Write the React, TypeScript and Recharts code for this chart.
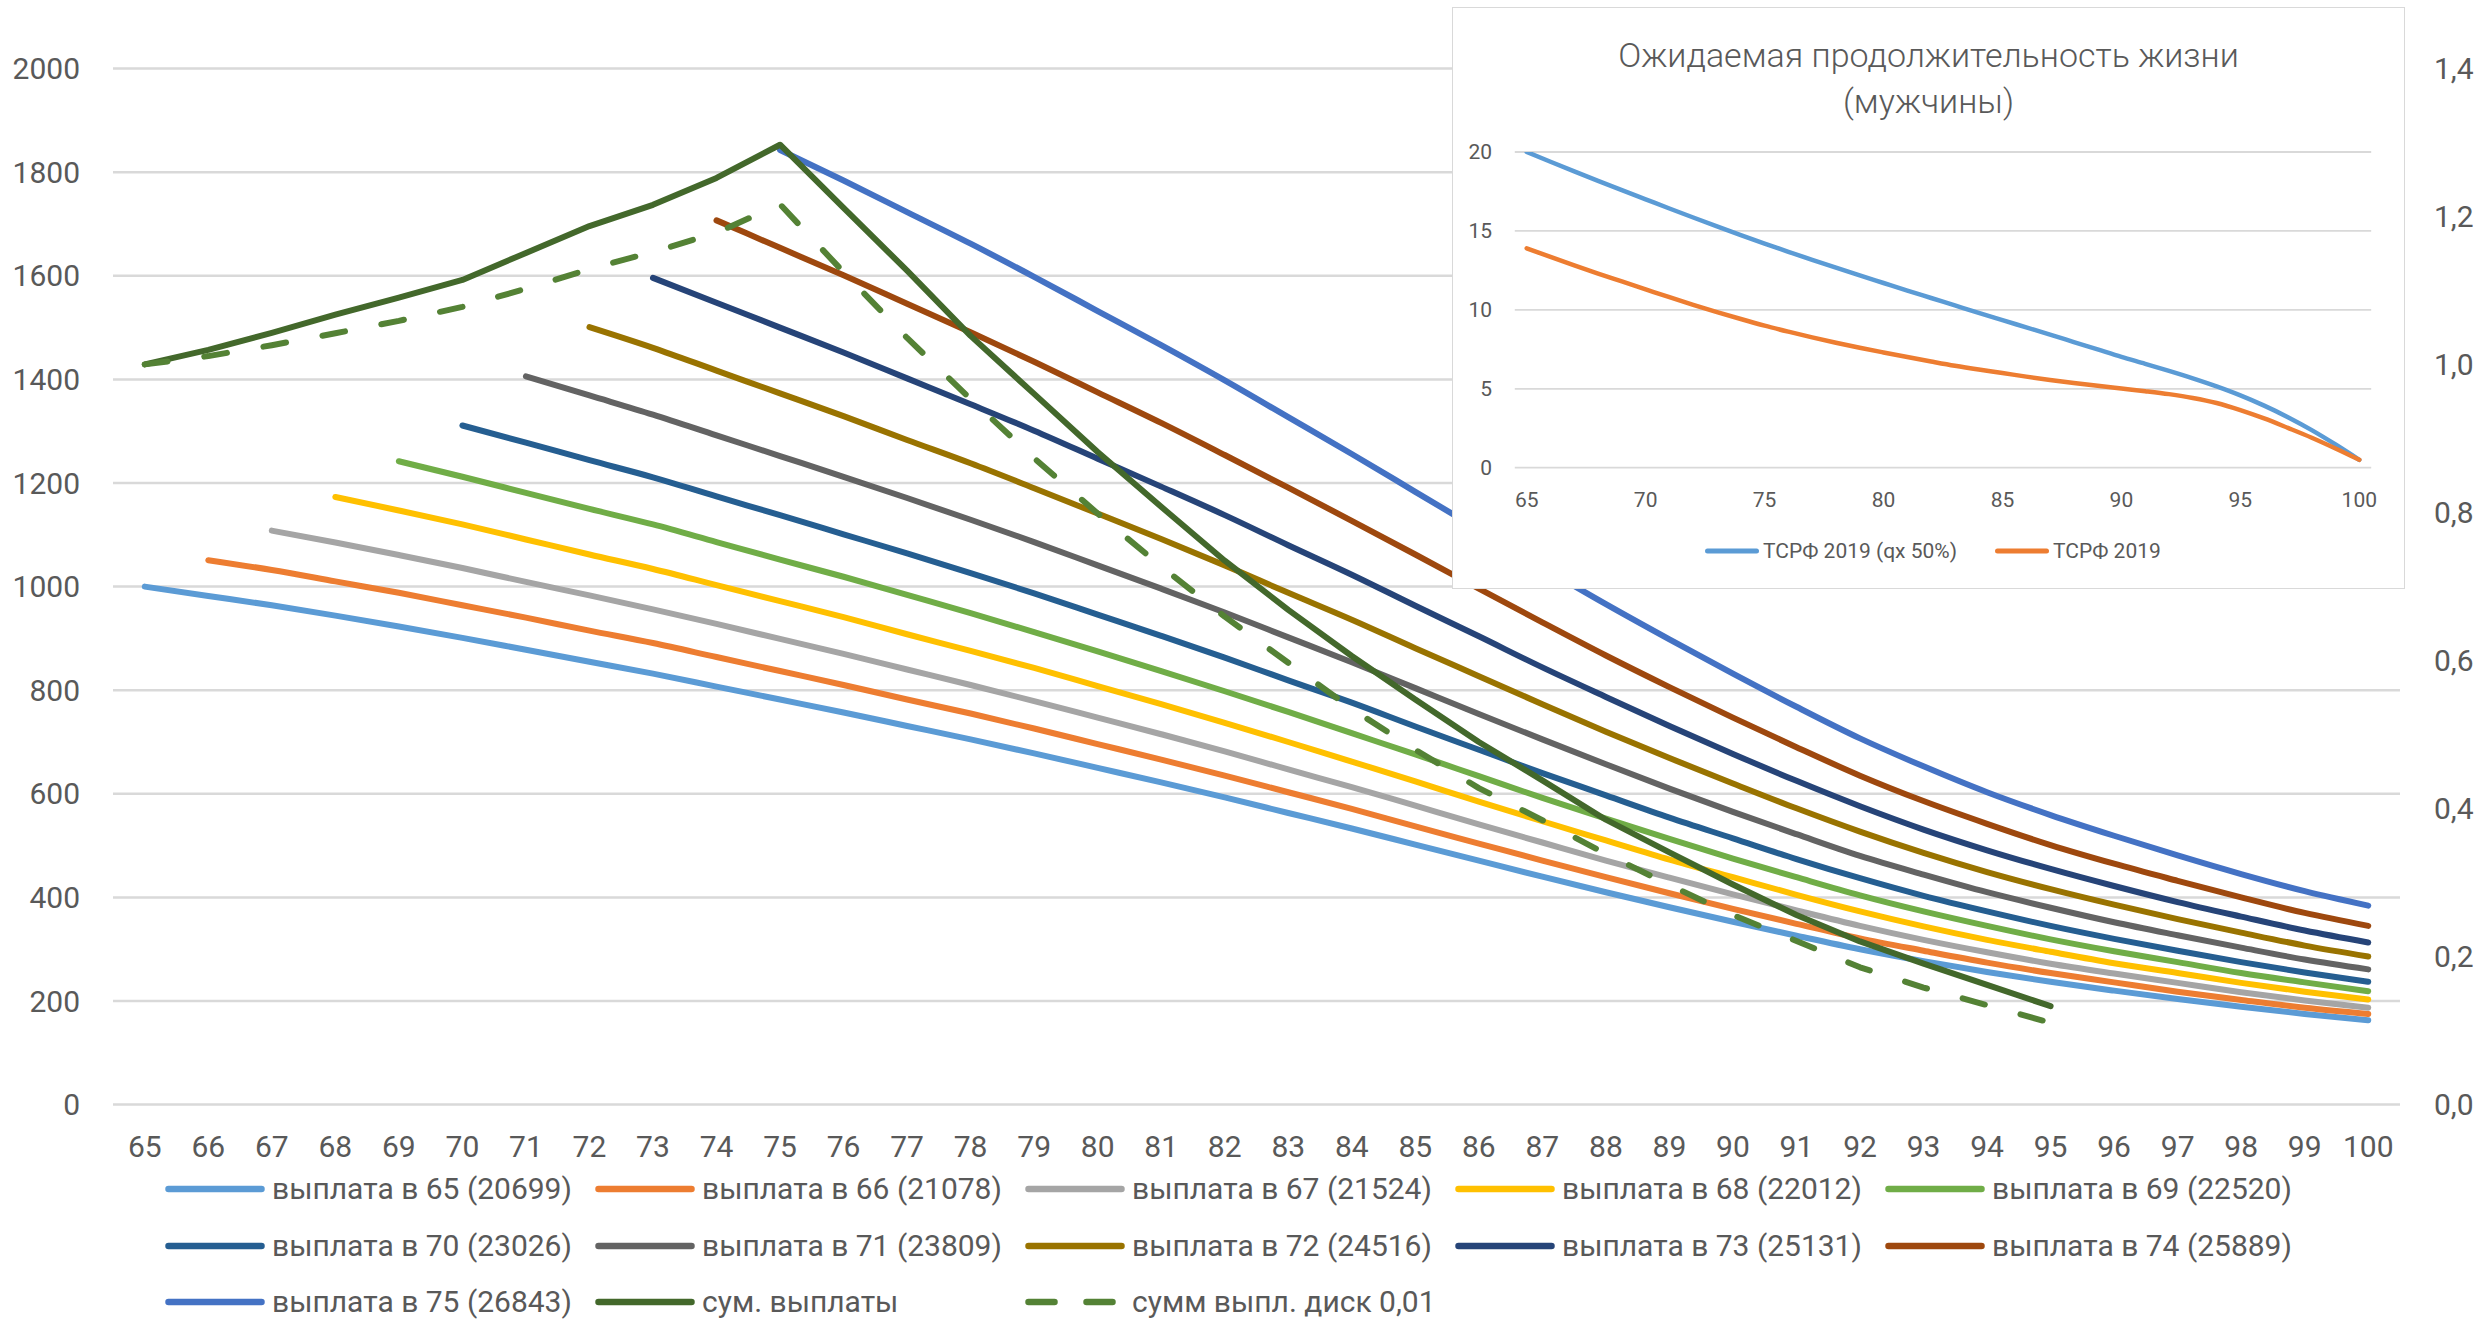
import React from 'react';
import { LineChart, Line, XAxis, YAxis, CartesianGrid, Legend } from 'recharts';

const FONT = "Roboto, 'Noto Sans', 'DejaVu Sans', sans-serif";
const TEXT = '#595959';
const GRID = '#D9D9D9';

// ---------- main chart data ----------
const ages = [65, 66, 67, 68, 69, 70, 71, 72, 73, 74, 75, 76, 77, 78, 79, 80, 81, 82, 83, 84, 85, 86, 87, 88, 89, 90, 91, 92, 93, 94, 95, 96, 97, 98, 99, 100];

const pay65 = [1000, 982, 964, 944, 923, 901, 878, 855, 832, 807, 782, 757, 731, 705, 678, 650, 622, 593, 563, 533, 502, 471, 440, 410, 381, 353, 326, 300, 277, 256, 237, 220, 204, 189, 175, 163];
const pay66 = [1051, 1032, 1010, 988, 964, 940, 915, 891, 864, 837, 810, 782, 755, 726, 696, 666, 635, 603, 571, 537, 504, 471, 439, 408, 378, 349, 321, 297, 274, 254, 236, 218, 202, 187, 175];
const pay67 = [1108, 1085, 1061, 1036, 1009, 983, 956, 928, 899, 870, 840, 810, 779, 747, 715, 682, 647, 613, 577, 541, 506, 471, 438, 406, 375, 345, 318, 294, 272, 253, 235, 217, 201, 187];
const pay68 = [1173, 1147, 1120, 1091, 1062, 1034, 1003, 972, 941, 908, 876, 843, 808, 773, 737, 700, 662, 624, 585, 547, 510, 473, 439, 405, 373, 344, 318, 295, 273, 254, 235, 218, 203];
const pay69 = [1242, 1212, 1181, 1150, 1120, 1086, 1052, 1019, 984, 949, 912, 875, 837, 798, 758, 717, 676, 634, 592, 552, 513, 475, 439, 404, 373, 345, 319, 296, 275, 254, 236, 219];
const pay70 = [1311, 1278, 1244, 1211, 1174, 1138, 1101, 1064, 1026, 987, 946, 905, 863, 819, 776, 730, 685, 640, 597, 554, 514, 474, 437, 403, 373, 345, 320, 297, 275, 255, 237];
const pay71 = [1406, 1369, 1332, 1292, 1252, 1212, 1171, 1129, 1086, 1041, 996, 950, 902, 854, 804, 754, 705, 657, 610, 565, 522, 480, 444, 410, 380, 352, 327, 303, 280, 261];
const pay72 = [1501, 1461, 1417, 1373, 1329, 1283, 1238, 1190, 1141, 1092, 1041, 988, 936, 881, 827, 773, 720, 669, 620, 572, 527, 486, 449, 416, 386, 358, 332, 307, 286];
const pay73 = [1596, 1548, 1500, 1452, 1402, 1352, 1301, 1247, 1193, 1138, 1080, 1023, 963, 904, 844, 787, 731, 677, 625, 576, 531, 491, 455, 422, 391, 363, 336, 313];
const pay74 = [1707, 1654, 1601, 1546, 1491, 1434, 1375, 1316, 1254, 1191, 1127, 1062, 996, 931, 867, 806, 747, 690, 635, 586, 542, 501, 465, 432, 400, 370, 345];
const pay75 = [1843, 1784, 1723, 1662, 1598, 1532, 1466, 1398, 1327, 1256, 1183, 1110, 1037, 966, 898, 832, 768, 707, 653, 603, 559, 519, 481, 445, 412, 384];

// ages 65..95
const sumPayouts = [1429, 1457, 1490, 1525, 1558, 1592, 1644, 1696, 1737, 1789, 1853, 1731, 1610, 1484, 1372, 1260, 1154, 1050, 955, 866, 782, 700, 626, 550, 487, 425, 366, 315, 272, 231, 190];
const sumDiscounted = [1429, 1445, 1466, 1489, 1513, 1540, 1575, 1613, 1646, 1683, 1738, 1607, 1480, 1362, 1248, 1141, 1039, 942, 853, 764, 685, 611, 549, 484, 424, 366, 316, 265, 226, 192, 158];

const payoutNames = ['выплата в 65 (20699)', 'выплата в 66 (21078)', 'выплата в 67 (21524)', 'выплата в 68 (22012)', 'выплата в 69 (22520)', 'выплата в 70 (23026)', 'выплата в 71 (23809)', 'выплата в 72 (24516)', 'выплата в 73 (25131)', 'выплата в 74 (25889)', 'выплата в 75 (26843)'];
const payoutStarts = [65, 66, 67, 68, 69, 70, 71, 72, 73, 74, 75];
const payoutValues = [pay65, pay66, pay67, pay68, pay69, pay70, pay71, pay72, pay73, pay74, pay75];
const payoutColors = ['#5B9BD5', '#ED7D31', '#A5A5A5', '#FFC000', '#70AD47', '#255E91', '#636363', '#997300', '#264478', '#9E480E', '#4472C4'];
const sumName = 'сум. выплаты';
const discName = 'сумм выпл. диск 0,01';
const sumColor = '#43682B';
const discColor = '#548235';

const leftTicks = [0, 200, 400, 600, 800, 1000, 1200, 1400, 1600, 1800, 2000];
const rightTicks = [0, 0.2, 0.4, 0.6, 0.8, 1.0, 1.2, 1.4];

// ---------- inset data ----------
const insetTitle1 = 'Ожидаемая продолжительность жизни';
const insetTitle2 = '(мужчины)';
const lifeHalfQxName = 'ТСРФ 2019 (qx 50%)';
const lifeName = 'ТСРФ 2019';
const lifeHalfQx = [20.0, 19.38, 18.77, 18.17, 17.58, 17.0, 16.42, 15.85, 15.29, 14.74, 14.2, 13.68, 13.17, 12.67, 12.18, 11.7, 11.22, 10.75, 10.28, 9.81, 9.35, 8.89, 8.43, 7.96, 7.49, 7.02, 6.58, 6.13, 5.66, 5.15, 4.58, 3.93, 3.2, 2.38, 1.47, 0.5];
const life = [13.9, 13.35, 12.82, 12.3, 11.8, 11.3, 10.8, 10.32, 9.86, 9.42, 9.0, 8.62, 8.26, 7.92, 7.6, 7.3, 7.01, 6.73, 6.46, 6.22, 6.0, 5.77, 5.56, 5.37, 5.19, 5.02, 4.85, 4.66, 4.42, 4.1, 3.65, 3.12, 2.52, 1.9, 1.22, 0.5];
const insetTicks = [0, 5, 10, 15, 20];

// ---------- build tables ----------
const mainData = ages.map((age) => {
  const row: any = { age };
  payoutValues.forEach((vals, k) => {
    const i = age - payoutStarts[k];
    if (i >= 0 && i < vals.length) row['p' + payoutStarts[k]] = vals[i];
  });
  const j = age - 65;
  if (j < sumPayouts.length) row.sum = sumPayouts[j];
  if (j < sumDiscounted.length) row.disc = sumDiscounted[j];
  return row;
});

const insetData = ages.map((age, i) => ({ age, half: lifeHalfQx[i], full: life[i] }));

const legendOrder = [...payoutNames, sumName, discName];

function MainLegend(props: any) {
  const payload = [...(props.payload || [])].sort(
    (a: any, b: any) => legendOrder.indexOf(a.value) - legendOrder.indexOf(b.value)
  );
  return (
    <div style={{ display: 'grid', gridTemplateColumns: 'repeat(5, 430px)', fontFamily: FONT }}>
      {payload.map((e: any, i: number) => {
        const dashed = e.value === discName;
        return (
          <div key={i} style={{ display: 'flex', alignItems: 'center', height: 56.5 }}>
            <svg width={100} height={14} style={{ display: 'block', flex: 'none' }}>
              {dashed ? (
                <g>
                  <line x1={3.5} y1={7} x2={29.5} y2={7} stroke={e.color} strokeWidth={6.5} strokeLinecap="round" />
                  <line x1={61.5} y1={7} x2={87.5} y2={7} stroke={e.color} strokeWidth={6.5} strokeLinecap="round" />
                </g>
              ) : (
                <line x1={3.5} y1={7} x2={96.5} y2={7} stroke={e.color} strokeWidth={6.5} strokeLinecap="round" />
              )}
            </svg>
            <span style={{ marginLeft: 7, fontSize: 30, color: TEXT, whiteSpace: 'nowrap', lineHeight: '36px' }}>
              {e.value}
            </span>
          </div>
        );
      })}
    </div>
  );
}

function InsetLegend(props: any) {
  const order = [lifeHalfQxName, lifeName];
  const payload = [...(props.payload || [])].sort(
    (a: any, b: any) => order.indexOf(a.value) - order.indexOf(b.value)
  );
  return (
    <div style={{ display: 'flex', fontFamily: FONT }}>
      {payload.map((e: any, i: number) => (
        <div key={i} style={{ display: 'flex', alignItems: 'center', height: 30, width: i === 0 ? 290 : 200 }}>
          <svg width={54} height={10} style={{ display: 'block', flex: 'none' }}>
            <line x1={2.5} y1={5} x2={51.5} y2={5} stroke={e.color} strokeWidth={5} strokeLinecap="round" />
          </svg>
          <span style={{ marginLeft: 4, fontSize: 21, color: TEXT, whiteSpace: 'nowrap', lineHeight: '26px' }}>
            {e.value}
          </span>
        </div>
      ))}
    </div>
  );
}

const fmtRight = (v: number) => v.toFixed(1).replace('.', ',');

export default function App() {
  return (
    <div style={{ position: 'absolute', left: 0, top: 0, width: 2486, height: 1322, background: '#fff', fontFamily: FONT }}>
      <div style={{ position: 'absolute', left: 0, top: 0 }}>
        <LineChart
          width={2486}
          height={1322}
          data={mainData}
          margin={{ top: 68.6, right: 6, bottom: 157.4, left: 8 }}
        >
          <CartesianGrid yAxisId="left" horizontal vertical={false} stroke={GRID} strokeWidth={2.5} />
          <XAxis
            dataKey="age"
            type="category"
            interval={0}
            padding={{ left: 31.77, right: 31.77 }}
            axisLine={false}
            tickLine={false}
            tickSize={0}
            tickMargin={31.4}
            height={60}
            tick={{ fontSize: 30, fill: TEXT, fontFamily: FONT }}
          />
          <YAxis
            yAxisId="left"
            width={105}
            domain={[0, 2000]}
            ticks={leftTicks}
            interval={0}
            axisLine={false}
            tickLine={false}
            tickSize={0}
            tickMargin={33}
            tick={{ fontSize: 30, fill: TEXT, fontFamily: FONT }}
          />
          <YAxis
            yAxisId="right"
            orientation="right"
            width={80}
            domain={[0, 1.4]}
            allowDataOverflow
            ticks={rightTicks}
            interval={0}
            tickFormatter={fmtRight}
            axisLine={false}
            tickLine={false}
            tickSize={0}
            tickMargin={34}
            tick={{ fontSize: 30, fill: TEXT, fontFamily: FONT }}
          />
          {payoutStarts.map((s, k) => (
            <Line
              key={'p' + s}
              yAxisId="left"
              dataKey={'p' + s}
              name={payoutNames[k]}
              stroke={payoutColors[k]}
              strokeWidth={6}
              strokeLinecap="round"
              strokeLinejoin="round"
              type="monotone"
              dot={false}
              activeDot={false}
              isAnimationActive={false}
            />
          ))}
          <Line
            yAxisId="left"
            dataKey="sum"
            name={sumName}
            stroke={sumColor}
            strokeWidth={6}
            strokeLinecap="round"
            strokeLinejoin="round"
            type="linear"
            dot={false}
            activeDot={false}
            isAnimationActive={false}
          />
          <Line
            yAxisId="left"
            dataKey="disc"
            name={discName}
            stroke={discColor}
            strokeWidth={6}
            strokeDasharray="23 37"
            strokeLinecap="round"
            strokeLinejoin="round"
            type="linear"
            dot={false}
            activeDot={false}
            isAnimationActive={false}
          />
          <Legend
            content={(p: any) => <MainLegend {...p} />}
            wrapperStyle={{ position: 'absolute', left: 165, top: 1161, width: 2200, height: 0, overflow: 'visible' }}
          />
        </LineChart>
      </div>

      {/* inset chart */}
      <div style={{ position: 'absolute', left: 1452, top: 7, width: 953, height: 582, background: '#fff' }}>
        <div
          style={{
            position: 'absolute',
            left: 0,
            top: 25,
            width: 953,
            textAlign: 'center',
            fontSize: 34,
            fontWeight: 300,
            lineHeight: '46px',
            color: TEXT,
            fontFamily: FONT,
            whiteSpace: 'nowrap',
          }}
        >
          <div>{insetTitle1}</div>
          <div>{insetTitle2}</div>
        </div>
        <div style={{ position: 'absolute', left: 0, top: 0 }}>
          <LineChart
            width={953}
            height={582}
            data={insetData}
            margin={{ top: 145, right: 33.8, bottom: 81.3, left: 12.8 }}
          >
            <CartesianGrid horizontal vertical={false} stroke={GRID} strokeWidth={1.8} />
            <XAxis
              dataKey="age"
              type="category"
              interval={4}
              padding={{ left: 11.9, right: 11.9 }}
              axisLine={false}
              tickLine={false}
              tickSize={0}
              tickMargin={24.2}
              height={40}
              tick={{ fontSize: 21, fill: TEXT, fontFamily: FONT }}
            />
            <YAxis
              width={50}
              domain={[0, 20]}
              ticks={insetTicks}
              interval={0}
              allowDataOverflow
              axisLine={false}
              tickLine={false}
              tickSize={0}
              tickMargin={22.8}
              tick={{ fontSize: 21, fill: TEXT, fontFamily: FONT }}
            />
            <Line
              dataKey="half"
              name={lifeHalfQxName}
              stroke="#5B9BD5"
              strokeWidth={4.5}
              strokeLinecap="round"
              type="monotone"
              dot={false}
              activeDot={false}
              isAnimationActive={false}
            />
            <Line
              dataKey="full"
              name={lifeName}
              stroke="#ED7D31"
              strokeWidth={4.5}
              strokeLinecap="round"
              type="monotone"
              dot={false}
              activeDot={false}
              isAnimationActive={false}
            />
            <Legend
              content={(p: any) => <InsetLegend {...p} />}
              wrapperStyle={{ position: 'absolute', left: 253, top: 529, width: 600, height: 0, overflow: 'visible' }}
            />
          </LineChart>
        </div>
        <div
          style={{
            position: 'absolute',
            left: 0,
            top: 0,
            width: 953,
            height: 582,
            boxSizing: 'border-box',
            border: '1.5px solid #D9D9D9',
            pointerEvents: 'none',
          }}
        />
      </div>
    </div>
  );
}
